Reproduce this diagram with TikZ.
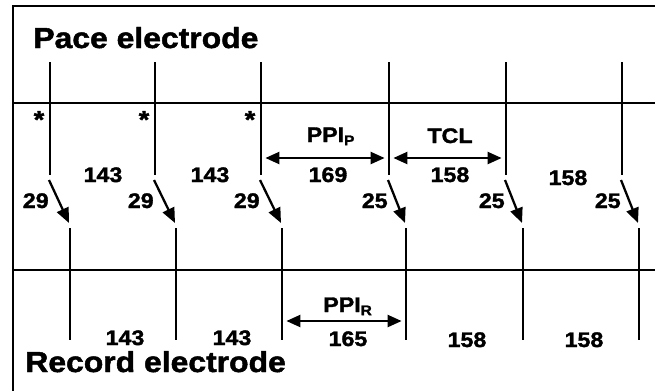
\documentclass[tikz,border=0pt]{standalone}
\usepackage{fontspec}
\setmainfont{Liberation Sans}[FakeStretch=1.1, BoldFeatures={FakeBold=1.6}]
\usepackage{tikz}
\usetikzlibrary{arrows.meta, calc}
\tikzset{
  frame/.style={line width=1.2pt, line cap=rect},
  trace/.style={line width=1.1pt},
  spike/.style={line width=1.5pt},
  conduct/.style={
    -{Triangle[length=3.0mm, width=2.5mm]},
    line width=1.3pt
  },
  interval/.style={
    {Triangle[length=2.8mm, width=2.4mm]}-{Triangle[length=2.8mm, width=2.4mm]},
    line width=1.3pt, shorten <=2.5pt, shorten >=2.5pt
  },
  heading/.style={font=\bfseries\fontsize{16.5}{19}\selectfont, inner sep=0pt, anchor=base west},
  value/.style={font=\bfseries\fontsize{12}{14}\selectfont, inner sep=0pt, anchor=base},
  marker/.style={font=\bfseries\fontsize{14}{16}\selectfont, inner sep=0pt, anchor=base}
}

\begin{document}
\begin{tikzpicture}[x=0.02cm, y=-0.02cm]
  \fill[white] (0,0) rectangle (655,390);
  \useasboundingbox (0,0) rectangle (655,390);

  % frame and the two traces
  \coordinate (fb) at (13,390);
  \coordinate (fc) at (13,6);
  \coordinate (fr) at (655,6);
  \draw[frame] (fb) -- (fc) -- (fr);
  \coordinate (pw) at (13,103);
  \coordinate (pe) at (655,103);
  \coordinate (rw) at (13,270);
  \coordinate (re) at (655,270);
  \draw[trace] (pw) -- (pe);
  \draw[trace] (rw) -- (re);

  \node[heading] (pace) at (33,48) {Pace electrode};
  \node[heading] (record) at (25,372) {Record electrode};

  % activations and conduction delays
  \foreach \i/\xp/\xr/\d in {1/50/70/29, 2/155/176/29, 3/261/282/29,
                             4/389/406/25, 5/506/523/25, 6/622/639/25} {
    \coordinate (p\i t) at (\xp,62);
    \coordinate (p\i b) at (\xp,175);
    \coordinate (r\i t) at (\xr,228);
    \coordinate (r\i b) at (\xr,340);
    \draw[spike] (p\i t) -- (p\i b);
    \draw[spike] (r\i t) -- (r\i b);
    \draw[conduct] ($(p\i b)+(-1,5)$) -- ($(r\i t)+(-1,-5)$);
    \node[value, anchor=base east] (d\i) at ($(p\i b)+(-1,33)$) {\d};
  }
  \foreach \i in {1,2,3} {
    \node[marker] (s\i) at ($(p\i t)+(-11,66)$) {*};
  }

  % measured intervals
  \coordinate (py) at (0,158);
  \coordinate (ry) at (0,321);
  \draw[interval] (p3t |- py) -- (p4t |- py);
  \draw[interval] (p4t |- py) -- (p5t |- py);
  \draw[interval] (r3t |- ry) -- (r4t |- ry);
  \node[value] (ppip) at (331,142) {PPI\textsubscript{P}};
  \node[value] (tcl) at (450,143) {TCL};
  \node[value] (ppir) at (348,312) {PPI\textsubscript{R}};

  \node[value] (pi1) at (103,182) {143};
  \node[value] (pi2) at (210,182) {143};
  \node[value] (pi3) at (328,182) {169};
  \node[value] (pi4) at (450,182) {158};
  \node[value] (pi5) at (568,185) {158};
  \node[value] (ri1) at (125,345) {143};
  \node[value] (ri2) at (232,345) {143};
  \node[value] (ri3) at (348,346) {165};
  \node[value] (ri4) at (467,347) {158};
  \node[value] (ri5) at (584,347) {158};
\end{tikzpicture}
\end{document}
